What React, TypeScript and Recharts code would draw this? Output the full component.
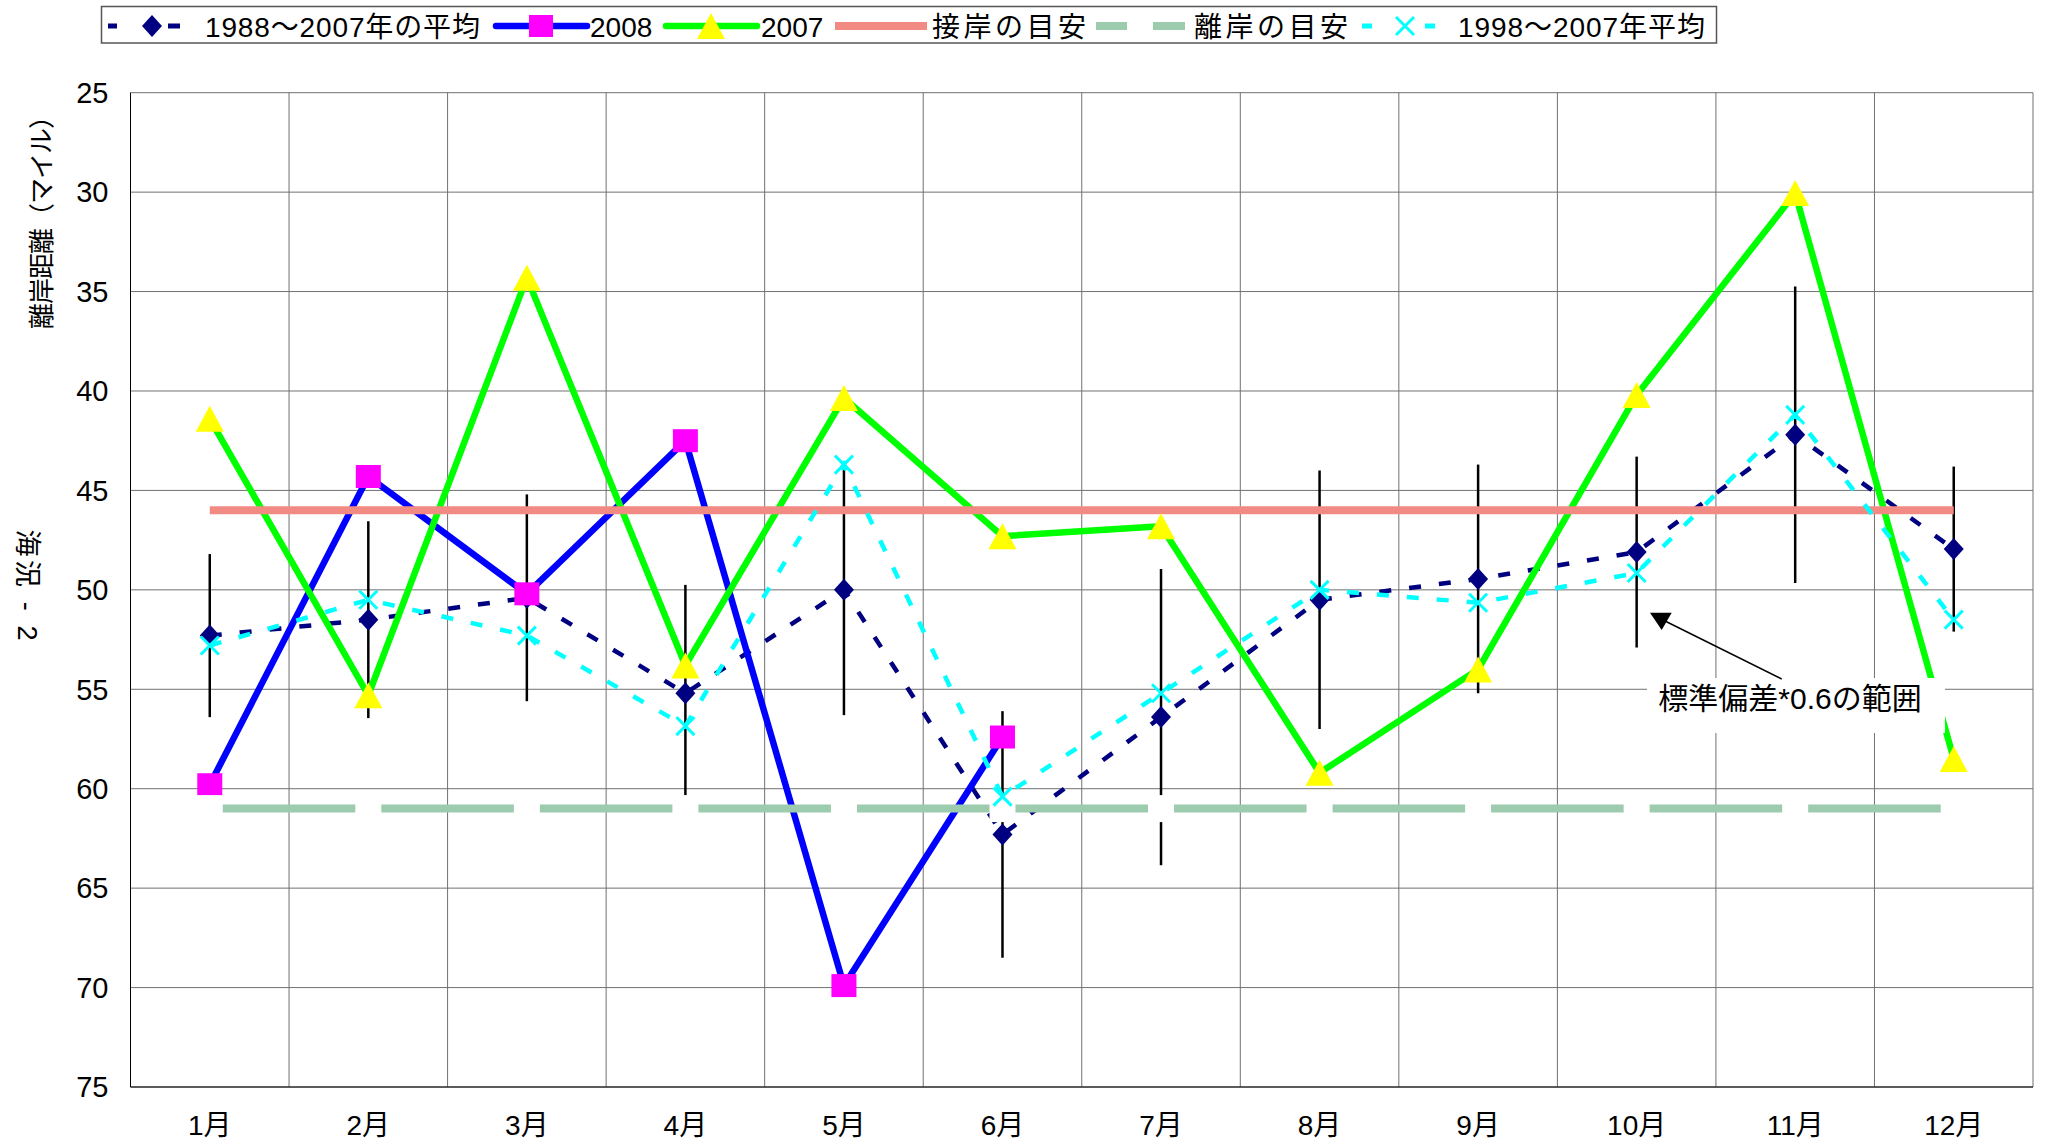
import React from 'react';
import { ComposedChart, Line, XAxis, YAxis, CartesianGrid, ErrorBar } from 'recharts';

const FONT = "'Liberation Sans', 'Noto Sans CJK JP', sans-serif";

// 月
const months = ['1月', '2月', '3月', '4月', '5月', '6月', '7月', '8月', '9月', '10月', '11月', '12月'];
// 1988～2007年の平均 と 標準偏差*0.6
const avg8807 = [52.3, 51.5, 50.4, 55.2, 50.0, 62.3, 56.4, 50.5, 49.45, 48.1, 42.2, 47.95];
const sd06 = [4.1, 4.95, 5.2, 5.45, 6.3, 6.2, 7.45, 6.5, 5.75, 4.8, 7.45, 4.15];
const y2008 = [59.8, 44.3, 50.2, 42.5, 69.9, 57.4, null, null, null, null, null, null];
const y2007 = [41.4, 55.3, 34.3, 53.8, 40.35, 47.3, 46.8, 59.2, 54.0, 40.2, 30.05, 58.5];
const avg9807 = [52.8, 50.5, 52.3, 56.85, 43.7, 60.4, 55.2, 50.0, 50.65, 49.15, 41.2, 51.5];
const setsuganMark = 46; // 接岸の目安
const riganMark = 61; // 離岸の目安
const yTicks = [25, 30, 35, 40, 45, 50, 55, 60, 65, 70, 75];

const seriesNames = ['1988～2007年の平均', '2008', '2007', '接岸の目安', '離岸の目安', '1998～2007年平均'];

const rows = months.map((m, i) => ({
  month: m,
  avg: avg8807[i],
  sd: sd06[i],
  y2008: y2008[i],
  y2007: y2007[i],
  setsugan: setsuganMark,
  rigan: riganMark,
  avg2: avg9807[i],
}));

const gridX = (props: any) => {
  const o = props.offset;
  return Array.from({ length: months.length + 1 }, (_, i) => o.left + (o.width * i) / months.length);
};

const ok = (p: any) => p.cx != null && p.cy != null && p.value != null;

const Diamond = (p: any) => {
  if (!ok(p)) return null;
  const { cx, cy } = p;
  return <path d={`M${cx},${cy - 11}L${cx + 10},${cy}L${cx},${cy + 11}L${cx - 10},${cy}Z`} fill="#000080" />;
};
const Square = (p: any) => {
  if (!ok(p)) return null;
  return <rect x={p.cx - 12.5} y={p.cy - 11.5} width={25} height={23} fill="#ff00ff" />;
};
const Tri = (p: any) => {
  if (!ok(p)) return null;
  const { cx, cy } = p;
  return <path d={`M${cx},${cy - 13}L${cx + 14},${cy + 13}L${cx - 14},${cy + 13}Z`} fill="#ffff00" />;
};
const Cross = (p: any) => {
  if (!ok(p)) return null;
  const { cx, cy } = p;
  return (
    <path d={`M${cx - 9},${cy - 9}L${cx + 9},${cy + 9}M${cx - 9},${cy + 9}L${cx + 9},${cy - 9}`} stroke="#00ffff" strokeWidth={3} />
  );
};
const WhiteMark = (p: any) => {
  if (!ok(p)) return null;
  return <rect x={p.cx - 13} y={p.cy - 13.5} width={26} height={27} fill="#ffffff" />;
};

const Overlay = () => (
  <svg
    width={2046}
    height={1146}
    style={{ position: 'absolute', left: 0, top: 0, pointerEvents: 'none' }}
    fontFamily={FONT}
  >
    {/* legend */}
    <rect x={101.5} y={6.5} width={1615} height={36.5} fill="#fff" stroke="#555" strokeWidth={1.5} />
    <line x1={108} x2={180} y1={26} y2={26} stroke="#000080" strokeWidth={5} strokeDasharray="9 51 12" />
    <path d="M152,15L162,26L152,37L142,26Z" fill="#000080" />
    <text x={205} y={37} fontSize={28} textLength={275} lengthAdjust="spacing">{seriesNames[0]}</text>

    <line x1={496} x2={587} y1={26} y2={26} stroke="#0000ff" strokeWidth={6.5} strokeLinecap="round" />
    <rect x={529} y={15} width={24} height={22} fill="#ff00ff" />
    <text x={590} y={37} fontSize={28}>{seriesNames[1]}</text>

    <line x1={666} x2={757} y1={26} y2={26} stroke="#00ff00" strokeWidth={6.5} strokeLinecap="round" />
    <path d="M711,13L725,39L697,39Z" fill="#ffff00" />
    <text x={761} y={37} fontSize={28}>{seriesNames[2]}</text>

    <line x1={835} x2={927} y1={26} y2={26} stroke="#f28a84" strokeWidth={8} />
    <text x={932} y={37} fontSize={28} textLength={154} lengthAdjust="spacing">{seriesNames[3]}</text>

    <line x1={1096} x2={1185} y1={26} y2={26} stroke="#9ccbae" strokeWidth={8} />
    <rect x={1127} y={12} width={26} height={27} fill="#fff" />
    <text x={1194} y={37} fontSize={28} textLength={154} lengthAdjust="spacing">{seriesNames[4]}</text>

    <line x1={1362} x2={1435} y1={26} y2={26} stroke="#00ffff" strokeWidth={5} strokeDasharray="10 53 10" />
    <path d="M1396,17L1414,35M1396,35L1414,17" stroke="#00ffff" strokeWidth={3} />
    <text x={1458} y={37} fontSize={28} textLength={247} lengthAdjust="spacing">{seriesNames[5]}</text>

    {/* axis titles */}
    <text
      transform="translate(42,216) rotate(-90)"
      textAnchor="middle"
      dominantBaseline="central"
      fontSize={26}
      textLength={226}
      lengthAdjust="spacing"
    >
      離岸距離（マイル）
    </text>
    <text
      transform="translate(27,585) rotate(90)"
      textAnchor="middle"
      dominantBaseline="central"
      fontSize={27}
      textLength={111}
      lengthAdjust="spacing"
    >
      海況 - 2
    </text>

    {/* annotation */}
    <rect x={1647} y={678} width={298} height={55} fill="#fff" />
    <text x={1790} y={698} textAnchor="middle" dominantBaseline="central" fontSize={30}>
      標準偏差*0.6の範囲
    </text>
    <line x1={1781.7} y1={679} x2={1664} y2={620.5} stroke="#000" strokeWidth={1.5} />
    <path d="M1650,612.7L1671.7,612.7L1661.7,630Z" fill="#000" />
  </svg>
);

export default function App() {
  return (
    <div style={{ position: 'absolute', left: 0, top: 0, width: 2046, height: 1146, background: '#fff' }}>
      <ComposedChart width={2046} height={1146} data={rows} margin={{ top: 92.7, right: 13, bottom: 9, left: 30.5 }}>
        <CartesianGrid stroke="#707070" strokeWidth={1} verticalCoordinatesGenerator={gridX} />
        <XAxis
          dataKey="month"
          scale="band"
          interval={0}
          tickSize={0}
          tickMargin={28}
          height={50}
          axisLine={{ stroke: '#000' }}
          tick={{ fontSize: 28, fill: '#000', fontFamily: FONT }}
        />
        <YAxis
          type="number"
          domain={[25, 75]}
          reversed
          ticks={yTicks}
          interval={0}
          allowDataOverflow
          tickSize={0}
          tickMargin={22}
          width={100}
          axisLine={{ stroke: '#000' }}
          tick={{ fontSize: 29, fill: '#000', fontFamily: FONT }}
        />
        <Line
          dataKey="avg"
          stroke="#000080"
          strokeWidth={4.5}
          strokeDasharray="12 18"
          dot={Diamond}
          activeDot={false}
          isAnimationActive={false}
        >
          <ErrorBar dataKey="sd" width={0} stroke="#000" strokeWidth={2.5} direction="y" isAnimationActive={false} />
        </Line>
        <Line
          dataKey="y2008"
          stroke="#0000ff"
          strokeWidth={6.5}
          strokeLinejoin="round"
          dot={Square}
          activeDot={false}
          isAnimationActive={false}
        />
        <Line
          dataKey="y2007"
          stroke="#00ff00"
          strokeWidth={6.5}
          strokeLinejoin="round"
          dot={Tri}
          activeDot={false}
          isAnimationActive={false}
        />
        <Line dataKey="setsugan" stroke="#f28a84" strokeWidth={8} dot={false} activeDot={false} isAnimationActive={false} />
        <Line dataKey="rigan" stroke="#9ccbae" strokeWidth={8} dot={WhiteMark} activeDot={false} isAnimationActive={false} />
        <Line
          dataKey="avg2"
          stroke="#00ffff"
          strokeWidth={4.5}
          strokeDasharray="12 18"
          dot={Cross}
          activeDot={false}
          isAnimationActive={false}
        />
      </ComposedChart>
      <Overlay />
    </div>
  );
}
